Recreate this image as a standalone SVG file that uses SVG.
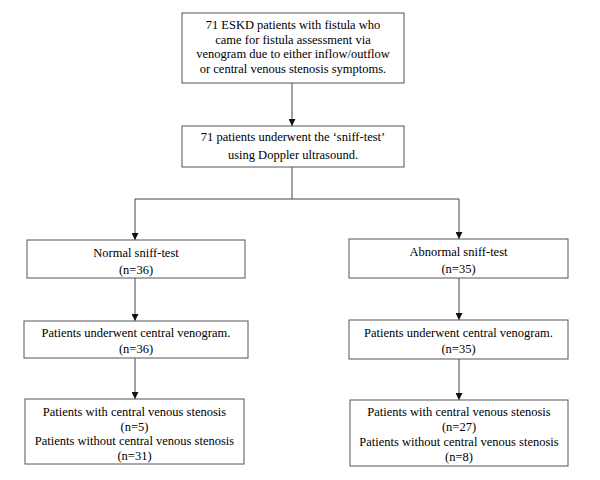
<svg xmlns="http://www.w3.org/2000/svg" width="600" height="480" viewBox="0 0 600 480" font-family="'Liberation Serif', 'Times New Roman', serif">
<style>
.box{fill:#fff;stroke:#555;stroke-width:1}
.t{font-family:'Liberation Serif','Times New Roman',serif;font-size:12.5px;fill:#000;text-anchor:middle}
.c{fill:none;stroke:#444;stroke-width:1}
</style>
<defs>
<marker id="ah" viewBox="0 0 7 7" refX="7" refY="3.5" markerWidth="7" markerHeight="7" markerUnits="userSpaceOnUse" orient="auto">
<path d="M0,0 L7,3.5 L0,7 z" fill="#111"/>
</marker>
</defs>
<rect width="600" height="480" fill="#fff"/>
<g id="connectors">
<line class="c" x1="292" y1="83" x2="292" y2="126" marker-end="url(#ah)"/>
<polyline class="c" points="292,167 292,199 135,199 135,240" marker-end="url(#ah)"/>
<polyline class="c" points="292,199 459,199 459,239" marker-end="url(#ah)"/>
<line class="c" x1="135" y1="278" x2="135" y2="321" marker-end="url(#ah)"/>
<line class="c" x1="459" y1="278" x2="459" y2="320" marker-end="url(#ah)"/>
<line class="c" x1="135" y1="358" x2="135" y2="399" marker-end="url(#ah)"/>
<line class="c" x1="459" y1="359" x2="459" y2="400" marker-end="url(#ah)"/>
</g>
<g id="n1">
<rect class="box" x="182" y="13" width="222" height="70"/>
<text class="t" x="293" y="29">71 ESKD patients with fistula who</text>
<text class="t" x="293" y="43.5">came for fistula assessment via</text>
<text class="t" x="293" y="58">venogram due to either inflow/outflow</text>
<text class="t" x="293" y="72.5">or central venous stenosis symptoms.</text>
</g>
<g id="n2">
<rect class="box" x="182" y="126" width="222" height="41"/>
<text class="t" x="293" y="141">71 patients underwent the ‘sniff-test’</text>
<text class="t" x="293" y="159">using Doppler ultrasound.</text>
</g>
<g id="n3">
<rect class="box" x="27" y="240" width="218" height="38"/>
<text class="t" x="136" y="256.5">Normal sniff-test</text>
<text class="t" x="136" y="273.5">(n=36)</text>
</g>
<g id="n4">
<rect class="box" x="349" y="239" width="219" height="39"/>
<text class="t" x="458.5" y="256">Abnormal sniff-test</text>
<text class="t" x="458.5" y="273">(n=35)</text>
</g>
<g id="n5">
<rect class="box" x="24" y="321" width="224" height="37"/>
<text class="t" x="136" y="337">Patients underwent central venogram.</text>
<text class="t" x="136" y="352.5">(n=36)</text>
</g>
<g id="n6">
<rect class="box" x="349" y="320" width="219" height="39"/>
<text class="t" x="458.5" y="337">Patients underwent central venogram.</text>
<text class="t" x="458.5" y="353">(n=35)</text>
</g>
<g id="n7">
<rect class="box" x="25" y="399" width="219" height="65"/>
<text class="t" x="134.5" y="415.5">Patients with central venous stenosis</text>
<text class="t" x="134.5" y="430.5">(n=5)</text>
<text class="t" x="134.5" y="445">Patients without central venous stenosis</text>
<text class="t" x="134.5" y="460">(n=31)</text>
</g>
<g id="n8">
<rect class="box" x="350" y="400" width="218" height="66"/>
<text class="t" x="459" y="416">Patients with central venous stenosis</text>
<text class="t" x="459" y="431">(n=27)</text>
<text class="t" x="459" y="446">Patients without central venous stenosis</text>
<text class="t" x="459" y="461">(n=8)</text>
</g>
</svg>
